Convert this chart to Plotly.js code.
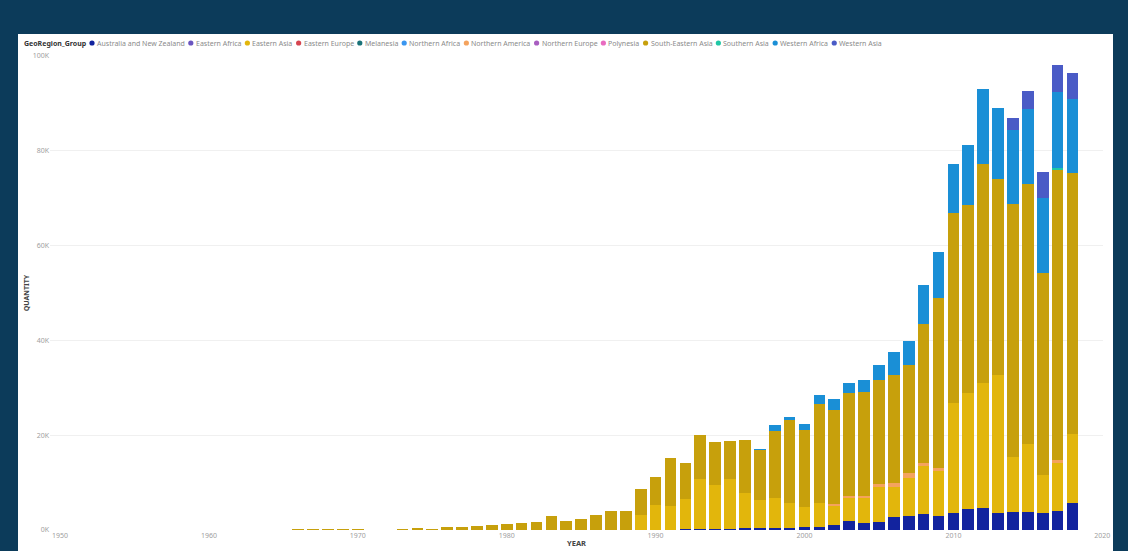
<!DOCTYPE html>
<html>
<head>
<meta charset="utf-8">
<script src="https://cdn.plot.ly/plotly-3.0.1.min.js"></script>
<style>
  html, body { margin: 0; padding: 0; background: #0C3B5A; overflow: hidden; width: 1128px; height: 551px; }
  #chart { position: absolute; left: 18px; top: 34px; width: 1095px; height: 517px; background: #ffffff; }
</style>
</head>
<body>
<div id="chart"></div>
<script>
// ---- data (quantities) ----
const seaYears = [1966,1967,1968,1969,1970,1971,1972,1973,1974,1975,1976,1977,1978,1979,1980,1981,1982,1983,1984,1985,1986,1987,1988,1989,1990,1991,1992,1993,1994,1995,1996,1997,1998,1999,2000,2001,2002,2003,2004,2005,2006,2007,2008,2009,2010,2011,2012,2013,2014,2015,2016,2017,2018];
const seaQty = [150,150,150,150,150,80,80,150,350,300,600,550,900,1000,1300,1400,1700,2900,1900,2300,3100,4100,4100,5400,5900,10200,7500,9300,9100,8100,11100,10600,14200,17400,16100,21000,19900,21700,21900,21900,22700,22800,29200,35900,40100,39600,46200,41300,53200,54800,42600,61100,55000];

const eaYears = [1989,1990,1991,1992,1993,1994,1995,1996,1997,1998,1999,2000,2001,2002,2003,2004,2005,2006,2007,2008,2009,2010,2011,2012,2013,2014,2015,2016,2017,2018];
const eaQty = [3200,5300,5000,6400,10400,9200,10400,7400,5900,6200,5300,4300,5000,4000,4900,5300,7400,6300,8000,10300,9500,23100,24500,26400,29300,11800,14400,8100,10100,14400];

const ausYears = [1992,1993,1994,1995,1996,1997,1998,1999,2000,2001,2002,2003,2004,2005,2006,2007,2008,2009,2010,2011,2012,2013,2014,2015,2016,2017,2018];
const ausQty = [200,300,300,300,400,400,500,500,600,600,1000,1800,1400,1600,2700,3000,3300,3000,3600,4400,4600,3500,3700,3700,3500,4100,5800];

const naYears = [2002,2003,2004,2005,2006,2007,2008,2009,2017];
const naQty = [400,500,500,700,1000,1000,600,500,600];

const wafrYears = [1997,1998,1999,2000,2001,2002,2003,2004,2005,2006,2007,2008,2009,2010,2011,2012,2013,2014,2015,2016,2017,2018];
const wafrQty = [200,1200,600,1300,1900,2300,2200,2500,3300,4900,5100,8300,9800,10500,12700,15800,14900,15600,16000,15900,16100,15800];

const wasiaYears = [2014,2015,2016,2017,2018];
const wasiaQty = [2600,3700,5300,5600,5300];

const sasiaYears = [2017];
const sasiaQty = [400];

// near-invisible groups
const eafrYears = [2016]; const eafrQty = [20];
const eeurYears = [2017]; const eeurQty = [20];
const melYears = [2015]; const melQty = [20];
const nafrYears = [2018]; const nafrQty = [20];
const neurYears = [2017]; const neurQty = [20];
const polyYears = [2016]; const polyQty = [20];

const groupNames = ['Australia and New Zealand','Eastern Africa','Eastern Asia','Eastern Europe','Melanesia','Northern Africa','Northern America','Northern Europe','Polynesia','South-Eastern Asia','Southern Asia','Western Africa','Western Asia'];
const yTickVals = [0,20000,40000,60000,80000,100000];
const yTickText = ['0K','20K','40K','60K','80K','100K'];
const xTickVals = [1950,1960,1970,1980,1990,2000,2010,2020];

// ---- styles ----
const colors = ['#12239E','#6A55C0','#E2B60C','#D64550','#197278','#3A96F0','#F4A35E','#A85EC0','#E86BC0','#C7A00C','#1FC7A6','#1A8FD6','#4A5BC6'];
const seriesData = [
  [ausYears, ausQty],[eafrYears, eafrQty],[eaYears, eaQty],[eeurYears, eeurQty],[melYears, melQty],
  [nafrYears, nafrQty],[naYears, naQty],[neurYears, neurQty],[polyYears, polyQty],[seaYears, seaQty],
  [sasiaYears, sasiaQty],[wafrYears, wafrQty],[wasiaYears, wasiaQty]
];

const traces = seriesData.map((d, i) => ({
  type: 'bar', name: groupNames[i], x: d[0], y: d[1],
  marker: { color: colors[i], line: { width: 0 } },
  showlegend: false, hoverinfo: 'x+y+name'
}));

// ---- layout geometry (page px -> paper fractions) ----
const plotLeft = 50, plotRight = 1103, plotTop = 56, plotBottom = 530;
const fx = px => (px - plotLeft) / (plotRight - plotLeft);
const fy = py => (plotBottom - py) / (plotBottom - plotTop);

const FONT = 'Noto Sans, Open Sans, sans-serif';
const LEG_SIZE = 7;
const legendY = 43;

// measure legend texts so items are laid out one after another
const ctx = document.createElement('canvas').getContext('2d');
ctx.font = LEG_SIZE + 'px "Noto Sans"';
const textW = groupNames.map(n => ctx.measureText(n).width);
// fit the row between the first dot (x=92) and the end of the last label (x=882)
const dotToText = 5, afterText = 6;
const natural = textW.reduce((a, b) => a + b, 0) + groupNames.length * dotToText + (groupNames.length - 1) * afterText;
const scale = (882 - 92) / natural;
const shapes = [];
const annotations = [];
annotations.push({
  xref: 'paper', yref: 'paper', x: fx(22), y: fy(legendY), xanchor: 'left', yanchor: 'middle',
  text: '<b>GeoRegion_Group</b>', showarrow: false, font: { family: FONT, size: LEG_SIZE, color: '#333333' }
});
let cx = 92;
groupNames.forEach((n, i) => {
  shapes.push({
    type: 'circle', xref: 'paper', yref: 'paper', xsizemode: 'pixel', ysizemode: 'pixel',
    xanchor: fx(cx), yanchor: fy(legendY), x0: -2.6, x1: 2.6, y0: -2.6, y1: 2.6,
    fillcolor: colors[i], line: { width: 0 }
  });
  annotations.push({
    xref: 'paper', yref: 'paper', x: fx(cx + 3), y: fy(legendY), xanchor: 'left', yanchor: 'middle',
    text: n, showarrow: false, font: { family: FONT, size: LEG_SIZE * Math.min(1, scale), color: '#8a8a8a' }
  });
  cx += (dotToText + textW[i] + afterText) * scale;
});

const xSpan = plotRight - plotLeft;
const pxPerYear = 14.89;
const xStart = 1950 - (60 - plotLeft) / pxPerYear;
const xEnd = xStart + xSpan / pxPerYear;

const layout = {
  width: 1095, height: 517,
  margin: { l: plotLeft - 18, r: 1113 - plotRight, t: plotTop - 34, b: 551 - plotBottom },
  paper_bgcolor: '#ffffff', plot_bgcolor: '#ffffff',
  barmode: 'stack', bargap: 0.22,
  showlegend: false,
  font: { family: FONT, size: 7, color: '#9a9a9a' },
  xaxis: {
    range: [xStart, xEnd], tickvals: xTickVals, ticktext: xTickVals.map(String),
    showgrid: false, zeroline: false, showline: false, ticks: '',
    tickfont: { family: FONT, size: 7, color: '#a0a0a0' },
    title: { text: '<b>YEAR</b>', font: { family: FONT, size: 7.5, color: '#444444' }, standoff: 1 }
  },
  yaxis: {
    range: [0, 100000], tickvals: yTickVals, ticktext: yTickText,
    showgrid: true, gridcolor: '#f0f0f0', gridwidth: 1, zeroline: false, showline: false, ticks: '',
    tickfont: { family: FONT, size: 7, color: '#a0a0a0' },
    title: { text: '<b>QUANTITY</b>', font: { family: FONT, size: 7, color: '#444444' }, standoff: 2 }
  },
  shapes: shapes,
  annotations: annotations
};

Plotly.newPlot('chart', traces, layout, { displayModeBar: false, staticPlot: true });
</script>
</body>
</html>
